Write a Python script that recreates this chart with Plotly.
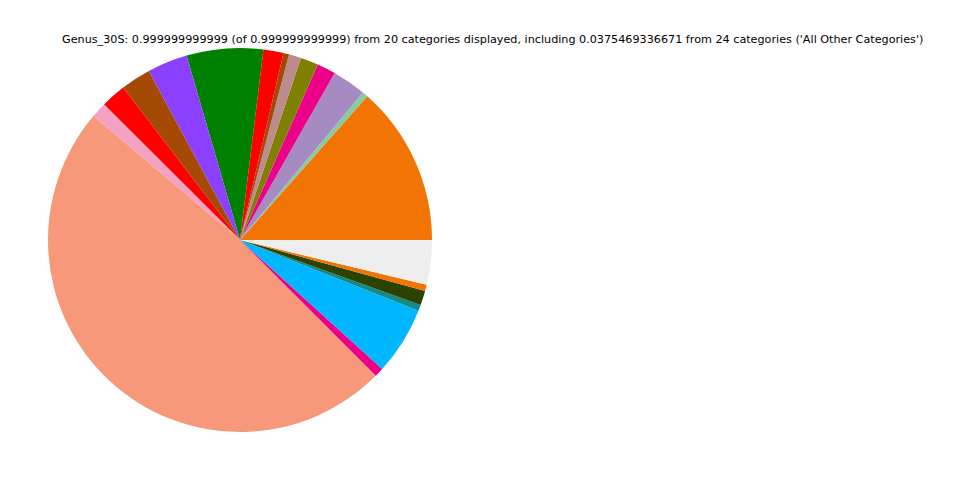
import plotly.graph_objects as go

categories = [
    "Cat01", "Cat02", "Cat03", "Cat04", "Cat05", "Cat06", "Cat07", "Cat08",
    "Cat09", "Cat10", "Cat11", "Cat12", "Cat13", "Cat14", "Cat15", "Cat16",
    "Cat17", "Cat18", "Cat19", "All Other Categories",
]
values = [
    0.1347, 0.0047, 0.0286, 0.0156, 0.0150, 0.0103, 0.0047, 0.0169,
    0.0644, 0.0339, 0.0253, 0.0211, 0.0131, 0.4867, 0.0078, 0.0572,
    0.0050, 0.0122, 0.0053, 0.0375469336671,
]
colors = [
    "#f27405", "#85cc9e", "#a58bc2", "#ec0089", "#808000", "#bc8a8f", "#a24a05", "#ff0000",
    "#008000", "#8c40ff", "#a44a05", "#ff0000", "#f4a2c4", "#f8987a", "#ec0089", "#00b7ff",
    "#128a8a", "#2b4200", "#f27405", "#eeeeee",
]
title_text = ("Genus_30S: 0.999999999999 (of 0.999999999999) from 20 categories displayed, "
              "including 0.0375469336671 from 24 categories ('All Other Categories')")

W, H = 960, 480
OFF = 8  # page body margin offset
cx, cy, r = 240 - OFF, 240 - OFF, 192

# first wedge starts at 3 o'clock and runs counterclockwise (matplotlib default)
first_share = values[0] / sum(values)
rotation = 90 - first_share * 360

fig = go.Figure(go.Pie(
    labels=categories,
    values=values,
    sort=False,
    direction="counterclockwise",
    rotation=rotation,
    marker=dict(colors=colors, line=dict(color="#bbbbbb", width=0)),
    textinfo="none",
    hoverinfo="label+percent",
    showlegend=False,
    domain=dict(x=[(cx - r) / W, (cx + r) / W], y=[(H - cy - r) / H, (H - cy + r) / H]),
))

fig.update_layout(
    width=W, height=H,
    margin=dict(l=0, r=0, t=0, b=0),
    paper_bgcolor="white",
    plot_bgcolor="white",
    annotations=[dict(
        text=title_text, x=(492 - OFF) / W, y=1 - (40 - OFF) / H, xref="paper", yref="paper",
        xanchor="center", yanchor="middle", showarrow=False,
        font=dict(family="DejaVu Sans", size=11.2, color="black"),
    )],
)

fig.write_html("out.html")
